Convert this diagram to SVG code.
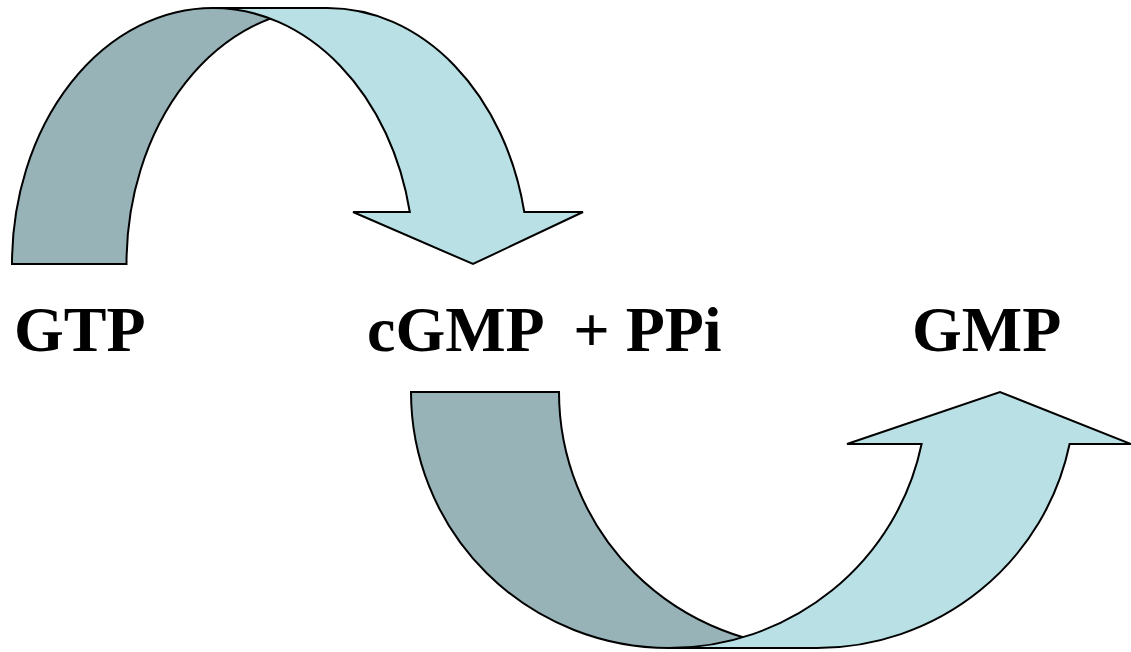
<svg xmlns="http://www.w3.org/2000/svg" width="1131" height="652" viewBox="0 0 1131 652">
  <style>
    .back { fill: #97b3b8; stroke: #000; stroke-width: 2; stroke-linejoin: miter; }
    .front { fill: #b9e0e4; stroke: #000; stroke-width: 2; stroke-linejoin: miter; }
    .lbl { font-family: "Liberation Serif", "Times New Roman", serif; font-weight: bold; font-size: 64px; fill: #000; }
  </style>
  <rect width="1131" height="652" fill="#fff"/>
  <g id="connectors">
    <g id="arrow-top">
      <path class="back" d="M12,264 A201,256 0 0 1 213,8 L327.5,8 A201,256 0 0 0 126.5,264 Z"/>
      <path class="front" d="M213,8 L327.5,8 A201,256 0 0 1 524.3,212 L583,212 L473,264 L353,212 L409.8,212 A201,256 0 0 0 213,8 Z"/>
    </g>
    <g id="arrow-bottom">
      <path class="back" d="M411,392 L559,392 A258,256 0 0 0 817,648 L669,648 A258,256 0 0 1 411,392 Z"/>
      <path class="front" d="M669,648 L817,648 A258,256 0 0 0 1069.6,444 L1131,444 L1000,392 L847,444 L921.6,444 A258,256 0 0 1 669,648 Z"/>
    </g>
  </g>
  <g id="node-gtp"><text class="lbl" x="14" y="351">GTP</text></g>
  <g id="node-cgmp"><text class="lbl" x="367" y="351" xml:space="preserve">cGMP  + PPi</text></g>
  <g id="node-gmp"><text class="lbl" x="912" y="351">GMP</text></g>
</svg>
